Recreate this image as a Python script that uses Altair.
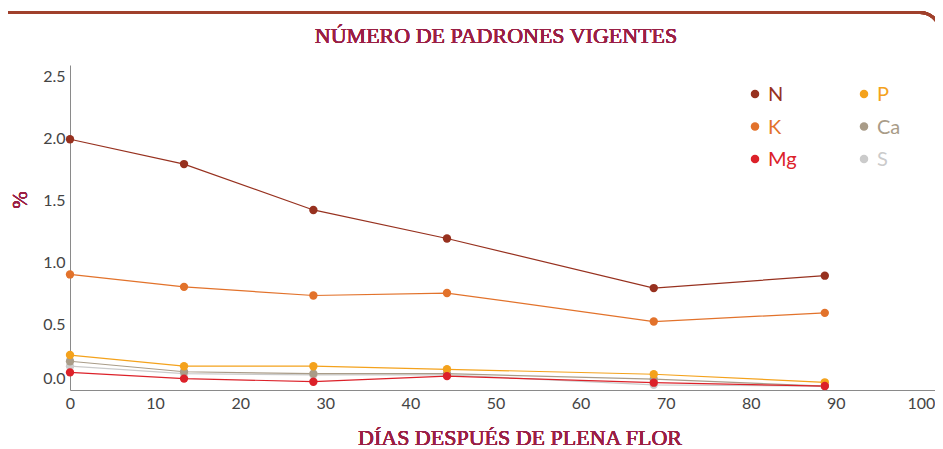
import altair as alt
import pandas as pd

# ---- data ----
days = [0, 13.4, 28.6, 44.3, 68.6, 88.7]
N = [1.99, 1.79, 1.42, 1.19, 0.79, 0.89]
K = [0.90, 0.80, 0.73, 0.75, 0.52, 0.59]
P = [0.25, 0.16, 0.16, 0.135, 0.095, 0.03]
Ca = [0.20, 0.115, 0.10, 0.10, 0.055, 0.0]
S = [0.16, 0.10, 0.09, 0.09, 0.01, 0.0]
Mg = [0.11, 0.06, 0.035, 0.08, 0.027, 0.0]

series_names = ["N", "P", "K", "Ca", "Mg", "S"]
series_colors = ["#97311f", "#f4a21c", "#e2722b", "#a99c88", "#dc2129", "#cbcbcb"]
legend_col = [0, 1, 0, 1, 0, 1]
legend_row = [0, 0, 1, 1, 2, 2]

x_ticks = [0, 10, 20, 30, 40, 50, 60, 70, 80, 90, 100]
y_ticks = [0.0, 0.5, 1.0, 1.5, 2.0, 2.5]

title_text = "NÚMERO DE PADRONES VIGENTES"
x_title = "DÍAS DESPUÉS DE PLENA FLOR"
y_title = "%"

# ---- tables ----
draw_order = ["S", "Ca", "P", "Mg", "K", "N"]
values = {"N": N, "K": K, "P": P, "Ca": Ca, "S": S, "Mg": Mg}
rows = []
for s in draw_order:
    for d, v in zip(days, values[s]):
        rows.append({"serie": s, "dia": d, "valor": v})
df = pd.DataFrame(rows)

leg = pd.DataFrame({"serie": series_names, "col": legend_col, "row": legend_row})

W, H = 865, 325
TITLE_COLOR = "#9a1f45"
color = alt.Color("serie:N", scale=alt.Scale(domain=series_names, range=series_colors), legend=None)

xs = alt.X("dia:Q", scale=alt.Scale(domain=[0, 101.65], nice=False, zero=False),
           axis=alt.Axis(values=x_ticks, format="d", title=None, ticks=False, grid=False,
                         labelPadding=5, labelFlush=False, domainColor="#8a8a8a"))
ys = alt.Y("valor:Q", scale=alt.Scale(domain=[-0.032, 2.589], nice=False, zero=False),
           axis=alt.Axis(values=y_ticks, format=".1f", title=None, ticks=False, grid=False,
                         labelPadding=5, labelFlush=6, domainColor="#8a8a8a"))

base = alt.Chart(df)
lines = base.mark_line(strokeWidth=1.2).encode(x=xs, y=ys, color=color, detail="serie:N")
points = base.mark_circle(size=70, opacity=1).encode(x=xs, y=ys, color=color)

main = alt.layer(lines, points)

lx = alt.X("col:Q", scale=alt.Scale(domain=[0, 1], range=[685, 794]), axis=None)
ly = alt.Y("row:Q", scale=alt.Scale(domain=[0, 2], range=[29, 94]), axis=None)
lbase = alt.Chart(leg)
leg_pts = lbase.mark_circle(size=72, opacity=1).encode(x=lx, y=ly, color=color)
leg_txt = lbase.mark_text(align="left", baseline="middle", dx=13, dy=1, font="Lato",
                          fontSize=20).encode(x=lx, y=ly, text="serie:N", color=color)
legend = alt.layer(leg_pts, leg_txt)

# decorations / titles
top_rule = alt.Chart(leg).mark_rule(color="#a0402c", strokeWidth=3).encode(
    x=alt.value(-62), x2=alt.value(850), y=alt.value(-52.5))
corner = alt.Chart(leg).mark_arc(color="#a0402c", radius=21.5, radius2=18.5,
                                 theta=0, theta2=1.35).encode(
    x=alt.value(850), y=alt.value(-32.5))
t_main = alt.Chart(leg).mark_text(font="Liberation Serif", fontSize=22, fontWeight="normal",
                                  color=TITLE_COLOR, align="center", baseline="middle").encode(
    x=alt.value(426), y=alt.value(-29), text=alt.value(title_text))
t_x = alt.Chart(leg).mark_text(font="Liberation Serif", fontSize=22, fontWeight="normal",
                               color=TITLE_COLOR, align="center", baseline="middle").encode(
    x=alt.value(450), y=alt.value(373), text=alt.value(x_title))
t_y = alt.Chart(leg).mark_text(font="Liberation Serif", fontSize=21, fontWeight="normal",
                               color=TITLE_COLOR, align="center", baseline="middle",
                               angle=270).encode(
    x=alt.value(-49), y=alt.value(135), text=alt.value(y_title))

chart = alt.layer(top_rule, corner, t_main, t_x, t_y, main, legend).resolve_scale(
    x="independent", y="independent"
).properties(
    width=W, height=H,
    autosize=alt.AutoSizeParams(type="none"),
    padding={"left": 62, "top": 57, "right": 0, "bottom": 59},
).configure_view(stroke=None).configure_axis(
    labelFont="Lato", labelFontSize=16, labelColor="#444444", domainWidth=1
)

chart.save("out.html", embed_options={"renderer": "svg", "actions": False})
